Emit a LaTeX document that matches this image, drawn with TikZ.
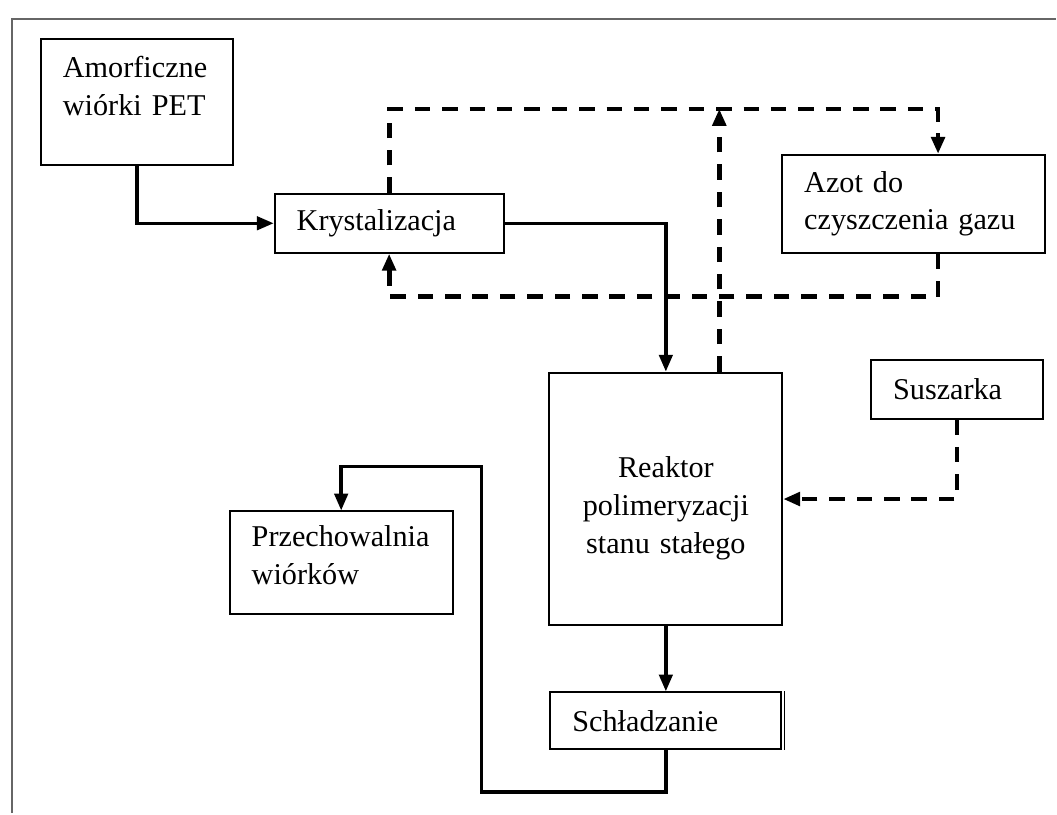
\documentclass[tikz,border=0pt]{standalone}
\usepackage{fontspec}
\setmainfont{Liberation Serif}
\usetikzlibrary{arrows.meta,positioning}

\begin{document}
\begin{tikzpicture}[
    x=0.025cm, y=-0.025cm,
    box/.style={rectangle, draw, line width=1.4pt, anchor=north west, align=left, inner xsep=0.55cm, inner ysep=0pt, font=\fontsize{21.5}{27}\selectfont},
    flow/.style={line width=2.5pt, -{Triangle[length=12pt,width=9.5pt]}},
    gas/.style={line width=3.4pt, dash pattern=on 11pt off 8.5pt, -{Triangle[length=12pt,width=9.5pt]}},
    frame/.style={line width=1.5pt, black!60}
]

% page and frame
\fill[white] (0,0) rectangle (1057,814);
\draw[frame] (12,814) -- (12,19) -- (1057,19);

% Process boxes
\node[box, minimum width=4.8cm, minimum height=3.15cm, text width=3.7cm, text height=0.5cm, text depth=1.7cm] (amorf) at (40,38) {Amorficzne\\wiórki PET};
\node[box, minimum width=5.725cm, minimum height=1.475cm, text width=4.625cm] (kryst) at (274,193) {Krystalizacja};
\node[box, minimum width=6.575cm, minimum height=2.45cm, text width=5.475cm] (azot) at (782,154) {Azot do\\czyszczenia gazu};
\node[box, align=center, minimum width=5.825cm, minimum height=6.325cm, text width=4.725cm, text height=0.5cm, text depth=1.575cm] (reaktor) at (549,372) {Reaktor\\polimeryzacji\\stanu stałego};
\node[box, minimum width=4.3cm, minimum height=1.475cm, text width=3.2cm] (susz) at (871,359) {Suszarka};
\node[box, minimum width=5.575cm, minimum height=2.575cm, text width=4.475cm, text height=0.5cm, text depth=1.3cm] (przech) at (229,511) {Przechowalnia\\wiórków};
\node[box, below=1.625cm of reaktor, minimum width=5.775cm, minimum height=1.425cm, text width=4.675cm] (chlodz) {Schładzanie};
\draw[line width=1pt] ([xshift=0.06cm]chlodz.north east) -- ([xshift=0.06cm]chlodz.south east);

% Solid lines: chips
\coordinate (ret-dn) at (482,793);
\coordinate (ret-up) at (482,467);
\draw[flow] (amorf.south) |- (kryst.west);
\draw[flow] (kryst.east) -| (reaktor.north);
\draw[flow] (reaktor.south) -- (chlodz.north);
\draw[flow] (chlodz.south) |- (ret-dn) -- (ret-up) -| (przech.north);

% Dashed lines: nitrogen loop
\coordinate (gas-top) at (0,109);
\coordinate (gas-bot) at (0,297);
\coordinate (gas-x) at (939,0);
\coordinate (vent) at (720,109);
\draw[gas] (kryst.north) -- (kryst.north |- gas-top) -- (gas-x |- gas-top) -- (gas-x |- azot.north);
\draw[gas] (reaktor.north -| vent) -- (vent);
\draw[gas] (gas-x |- azot.south) -- (gas-x |- gas-bot) -- (kryst.south |- gas-bot) -- (kryst.south);
\draw[gas] (susz.south) |- (reaktor.east);

\end{tikzpicture}
\end{document}
